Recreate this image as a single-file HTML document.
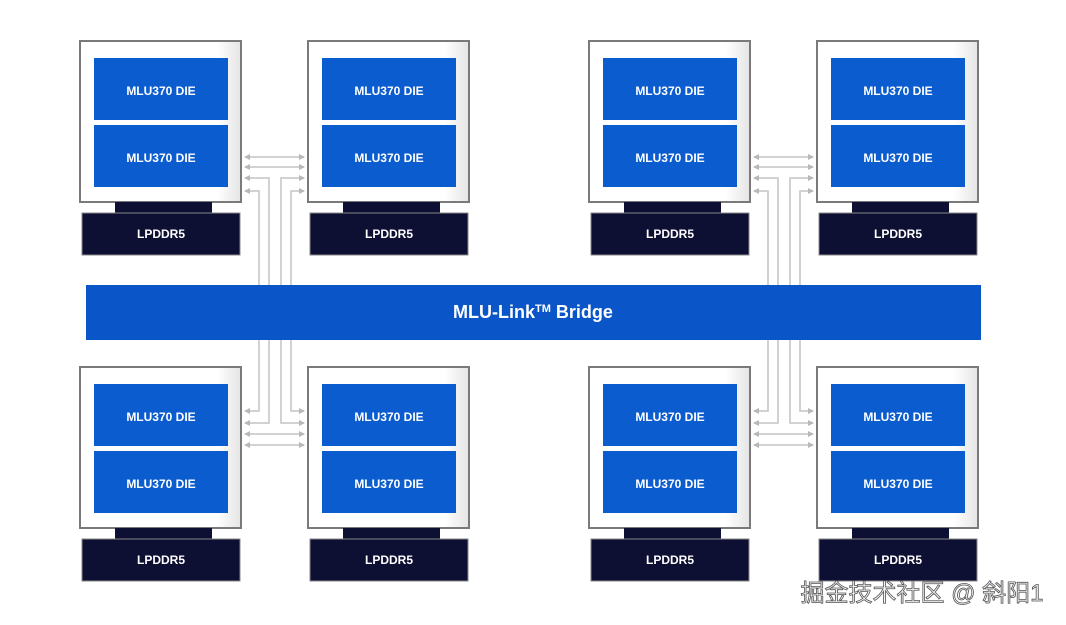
<!DOCTYPE html>
<html><head><meta charset="utf-8"><style>
html,body{margin:0;padding:0;background:#fff;width:1066px;height:625px;overflow:hidden}
svg text{font-family:"Liberation Sans",sans-serif;font-weight:bold;fill:#fff;text-anchor:middle}
</style></head><body>
<svg width="1066" height="625" viewBox="0 0 1066 625" xmlns="http://www.w3.org/2000/svg">
<defs>
<linearGradient id="sh" x1="0" x2="1" y1="0" y2="0"><stop offset="0.85" stop-color="#fff"/><stop offset="1" stop-color="#e4e4e4"/></linearGradient>
<marker id="ah" markerWidth="6" markerHeight="6" refX="5" refY="3" orient="auto-start-reverse" markerUnits="userSpaceOnUse"><path d="M0,0 L6,3 L0,6 Z" fill="#b8b8b8"/></marker>
</defs>
<g fill="none" stroke="#c4c4c4" stroke-width="1.5">
<g>
<line x1="245" y1="157" x2="304" y2="157" marker-start="url(#ah)" marker-end="url(#ah)"/>
<line x1="245" y1="167" x2="304" y2="167" marker-start="url(#ah)" marker-end="url(#ah)"/>
<polyline points="245,178 269,178 269,290" marker-start="url(#ah)"/>
<polyline points="245,191 259,191 259,290" marker-start="url(#ah)"/>
<polyline points="304,178 281,178 281,290" marker-start="url(#ah)"/>
<polyline points="304,191 291,191 291,290" marker-start="url(#ah)"/>
<polyline points="245,411 259,411 259,335" marker-start="url(#ah)"/>
<polyline points="245,423 269,423 269,335" marker-start="url(#ah)"/>
<polyline points="304,411 291,411 291,335" marker-start="url(#ah)"/>
<polyline points="304,423 281,423 281,335" marker-start="url(#ah)"/>
<line x1="245" y1="434" x2="304" y2="434" marker-start="url(#ah)" marker-end="url(#ah)"/>
<line x1="245" y1="445" x2="304" y2="445" marker-start="url(#ah)" marker-end="url(#ah)"/>
</g>
<g transform="translate(509,0)">
<line x1="245" y1="157" x2="304" y2="157" marker-start="url(#ah)" marker-end="url(#ah)"/>
<line x1="245" y1="167" x2="304" y2="167" marker-start="url(#ah)" marker-end="url(#ah)"/>
<polyline points="245,178 269,178 269,290" marker-start="url(#ah)"/>
<polyline points="245,191 259,191 259,290" marker-start="url(#ah)"/>
<polyline points="304,178 281,178 281,290" marker-start="url(#ah)"/>
<polyline points="304,191 291,191 291,290" marker-start="url(#ah)"/>
<polyline points="245,411 259,411 259,335" marker-start="url(#ah)"/>
<polyline points="245,423 269,423 269,335" marker-start="url(#ah)"/>
<polyline points="304,411 291,411 291,335" marker-start="url(#ah)"/>
<polyline points="304,423 281,423 281,335" marker-start="url(#ah)"/>
<line x1="245" y1="434" x2="304" y2="434" marker-start="url(#ah)" marker-end="url(#ah)"/>
<line x1="245" y1="445" x2="304" y2="445" marker-start="url(#ah)" marker-end="url(#ah)"/>
</g>
</g>
<rect x="86" y="285" width="895" height="55" fill="#0a55c8"/>
<text x="533" y="318" font-size="18">MLU-Link<tspan font-size="11" dy="-6">TM</tspan><tspan dy="6"> Bridge</tspan></text>

<g font-size="12">
<g transform="translate(80,41)">
<rect x="0" y="0" width="161" height="161" fill="url(#sh)" stroke="#7a7a7a" stroke-width="2"/>
<rect x="14" y="17" width="134" height="62" fill="#0b5ccf"/><rect x="14" y="84" width="134" height="62" fill="#0b5ccf"/>
<text x="81" y="54">MLU370 DIE</text><text x="81" y="121">MLU370 DIE</text>
<rect x="35" y="161" width="97" height="12" fill="#0d0f33"/><rect x="2" y="172" width="158" height="42" fill="#0d0f33" stroke="#888" stroke-width="1"/>
<text x="81" y="197">LPDDR5</text></g>
<g transform="translate(308,41)">
<rect x="0" y="0" width="161" height="161" fill="url(#sh)" stroke="#7a7a7a" stroke-width="2"/>
<rect x="14" y="17" width="134" height="62" fill="#0b5ccf"/><rect x="14" y="84" width="134" height="62" fill="#0b5ccf"/>
<text x="81" y="54">MLU370 DIE</text><text x="81" y="121">MLU370 DIE</text>
<rect x="35" y="161" width="97" height="12" fill="#0d0f33"/><rect x="2" y="172" width="158" height="42" fill="#0d0f33" stroke="#888" stroke-width="1"/>
<text x="81" y="197">LPDDR5</text></g>
<g transform="translate(589,41)">
<rect x="0" y="0" width="161" height="161" fill="url(#sh)" stroke="#7a7a7a" stroke-width="2"/>
<rect x="14" y="17" width="134" height="62" fill="#0b5ccf"/><rect x="14" y="84" width="134" height="62" fill="#0b5ccf"/>
<text x="81" y="54">MLU370 DIE</text><text x="81" y="121">MLU370 DIE</text>
<rect x="35" y="161" width="97" height="12" fill="#0d0f33"/><rect x="2" y="172" width="158" height="42" fill="#0d0f33" stroke="#888" stroke-width="1"/>
<text x="81" y="197">LPDDR5</text></g>
<g transform="translate(817,41)">
<rect x="0" y="0" width="161" height="161" fill="url(#sh)" stroke="#7a7a7a" stroke-width="2"/>
<rect x="14" y="17" width="134" height="62" fill="#0b5ccf"/><rect x="14" y="84" width="134" height="62" fill="#0b5ccf"/>
<text x="81" y="54">MLU370 DIE</text><text x="81" y="121">MLU370 DIE</text>
<rect x="35" y="161" width="97" height="12" fill="#0d0f33"/><rect x="2" y="172" width="158" height="42" fill="#0d0f33" stroke="#888" stroke-width="1"/>
<text x="81" y="197">LPDDR5</text></g>
<g transform="translate(80,367)">
<rect x="0" y="0" width="161" height="161" fill="url(#sh)" stroke="#7a7a7a" stroke-width="2"/>
<rect x="14" y="17" width="134" height="62" fill="#0b5ccf"/><rect x="14" y="84" width="134" height="62" fill="#0b5ccf"/>
<text x="81" y="54">MLU370 DIE</text><text x="81" y="121">MLU370 DIE</text>
<rect x="35" y="161" width="97" height="12" fill="#0d0f33"/><rect x="2" y="172" width="158" height="42" fill="#0d0f33" stroke="#888" stroke-width="1"/>
<text x="81" y="197">LPDDR5</text></g>
<g transform="translate(308,367)">
<rect x="0" y="0" width="161" height="161" fill="url(#sh)" stroke="#7a7a7a" stroke-width="2"/>
<rect x="14" y="17" width="134" height="62" fill="#0b5ccf"/><rect x="14" y="84" width="134" height="62" fill="#0b5ccf"/>
<text x="81" y="54">MLU370 DIE</text><text x="81" y="121">MLU370 DIE</text>
<rect x="35" y="161" width="97" height="12" fill="#0d0f33"/><rect x="2" y="172" width="158" height="42" fill="#0d0f33" stroke="#888" stroke-width="1"/>
<text x="81" y="197">LPDDR5</text></g>
<g transform="translate(589,367)">
<rect x="0" y="0" width="161" height="161" fill="url(#sh)" stroke="#7a7a7a" stroke-width="2"/>
<rect x="14" y="17" width="134" height="62" fill="#0b5ccf"/><rect x="14" y="84" width="134" height="62" fill="#0b5ccf"/>
<text x="81" y="54">MLU370 DIE</text><text x="81" y="121">MLU370 DIE</text>
<rect x="35" y="161" width="97" height="12" fill="#0d0f33"/><rect x="2" y="172" width="158" height="42" fill="#0d0f33" stroke="#888" stroke-width="1"/>
<text x="81" y="197">LPDDR5</text></g>
<g transform="translate(817,367)">
<rect x="0" y="0" width="161" height="161" fill="url(#sh)" stroke="#7a7a7a" stroke-width="2"/>
<rect x="14" y="17" width="134" height="62" fill="#0b5ccf"/><rect x="14" y="84" width="134" height="62" fill="#0b5ccf"/>
<text x="81" y="54">MLU370 DIE</text><text x="81" y="121">MLU370 DIE</text>
<rect x="35" y="161" width="97" height="12" fill="#0d0f33"/><rect x="2" y="172" width="158" height="42" fill="#0d0f33" stroke="#888" stroke-width="1"/>
<text x="81" y="197">LPDDR5</text></g>
</g>
<text x="922" y="601" font-size="24" style="font-family:'Liberation Sans','Noto Sans CJK SC',sans-serif;font-weight:normal;fill:#f4f4f4;stroke:#555;stroke-width:0.8">掘金技术社区 @ 斜阳1</text>
</svg>
</body></html>
